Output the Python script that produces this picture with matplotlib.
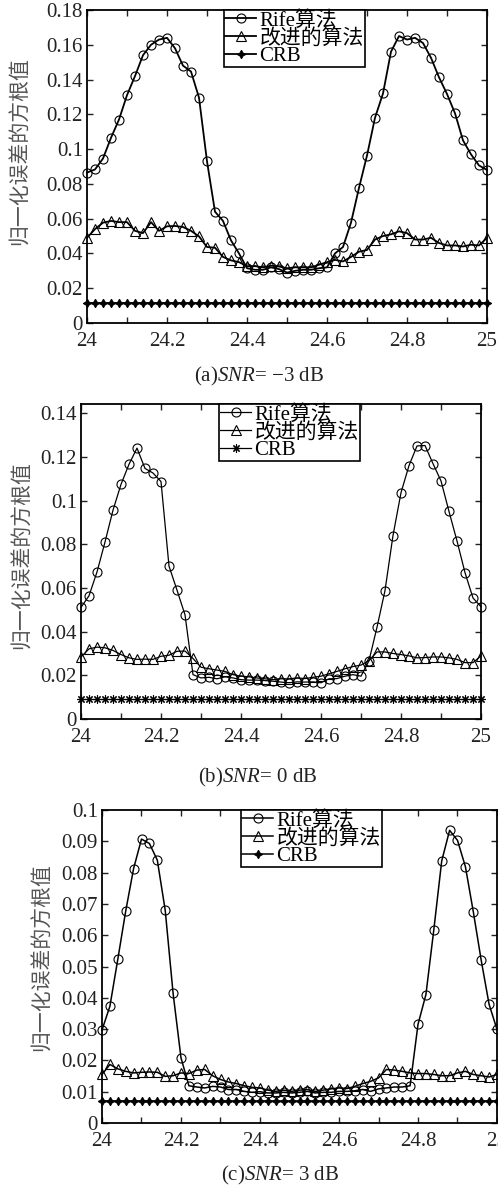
import matplotlib
matplotlib.use('Agg')
import matplotlib.pyplot as plt
import numpy as np
from matplotlib.ticker import MultipleLocator, FuncFormatter

plt.rcParams['font.family'] = ['Liberation Serif', 'Noto Sans CJK SC', 'DejaVu Sans']
plt.rcParams['mathtext.fontset'] = 'custom'
plt.rcParams['mathtext.rm'] = 'Liberation Serif'
plt.rcParams['mathtext.it'] = 'Liberation Serif:italic'

# ============================================
# 数据
# ============================================
freq = np.round(24 + 0.02 * np.arange(51), 2)

rife_a = [0.0865, 0.0883, 0.0946, 0.1065, 0.117, 0.131, 0.142, 0.154, 0.160, 0.163,
          0.164, 0.158, 0.148, 0.1446, 0.1296, 0.093, 0.064, 0.0587, 0.0475, 0.040,
          0.0315, 0.0306, 0.0306, 0.032, 0.031, 0.029, 0.030, 0.0306, 0.0306, 0.0315,
          0.032, 0.040, 0.0437, 0.0577, 0.0777, 0.0963, 0.118, 0.132, 0.156, 0.165,
          0.163, 0.164, 0.161, 0.1525, 0.1413, 0.1317, 0.1206, 0.105, 0.097, 0.0906,
          0.088]
impr_a = [0.049, 0.054, 0.0577, 0.0587, 0.058, 0.058, 0.053, 0.0517, 0.058, 0.053,
          0.0556, 0.0558, 0.0552, 0.053, 0.0498, 0.0437, 0.0433, 0.038, 0.036, 0.035,
          0.0327, 0.0327, 0.032, 0.033, 0.0325, 0.0315, 0.032, 0.032, 0.032, 0.0335,
          0.035, 0.0363, 0.0354, 0.038, 0.041, 0.042, 0.048, 0.050, 0.051, 0.0527,
          0.0517, 0.048, 0.048, 0.049, 0.046, 0.0446, 0.0446, 0.044, 0.045, 0.0446,
          0.049]
crb_a = 0.0115

rife_b = [0.0511, 0.0564, 0.0673, 0.081, 0.0956, 0.1074, 0.1166, 0.124, 0.1147, 0.1126,
          0.1087, 0.070, 0.059, 0.0477, 0.0203, 0.0188, 0.0191, 0.0184, 0.0193, 0.0188,
          0.018, 0.0178, 0.0178, 0.0176, 0.0173, 0.0169, 0.0166, 0.017, 0.0169, 0.017,
          0.0166, 0.0184, 0.0185, 0.0196, 0.0203, 0.0196, 0.0267, 0.042, 0.0588, 0.084,
          0.1036, 0.116, 0.125, 0.1252, 0.1169, 0.109, 0.095, 0.0815, 0.067, 0.0554,
          0.0514]
impr_b = [0.0284, 0.0321, 0.0329, 0.0326, 0.0314, 0.0295, 0.028, 0.0273, 0.0274, 0.0273,
          0.0287, 0.0292, 0.031, 0.0311, 0.0277, 0.0237, 0.023, 0.0224, 0.0218, 0.0203,
          0.0196, 0.0193, 0.0188, 0.0184, 0.018, 0.0184, 0.0184, 0.0188, 0.0185, 0.0191,
          0.0196, 0.0207, 0.0218, 0.023, 0.024, 0.0247, 0.0267, 0.0307, 0.0307, 0.030,
          0.0295, 0.0289, 0.028, 0.0281, 0.0284, 0.0284, 0.028, 0.0273, 0.0258, 0.0258,
          0.0289]
crb_b = 0.009

rife_c = [0.0297, 0.0373, 0.0523, 0.0677, 0.0813, 0.0907, 0.0893, 0.084, 0.068, 0.0414,
          0.0208, 0.0119, 0.0115, 0.0112, 0.0117, 0.0115, 0.0107, 0.0107, 0.0101, 0.0098,
          0.010, 0.0096, 0.0096, 0.0098, 0.0096, 0.0098, 0.0101, 0.0096, 0.0098, 0.0098,
          0.0101, 0.0101, 0.0103, 0.0107, 0.0101, 0.0109, 0.0112, 0.0115, 0.0115, 0.0119,
          0.0315, 0.041, 0.0617, 0.0837, 0.0935, 0.0903, 0.0819, 0.0675, 0.052, 0.0379,
          0.0299]
impr_c = [0.0155, 0.0187, 0.0173, 0.0165, 0.016, 0.0162, 0.0163, 0.0162, 0.0149, 0.0151,
          0.016, 0.0158, 0.0169, 0.0171, 0.0151, 0.0139, 0.0131, 0.0126, 0.0119, 0.0114,
          0.0112, 0.0105, 0.0101, 0.0105, 0.0101, 0.0105, 0.0107, 0.0101, 0.0105, 0.0109,
          0.0112, 0.011, 0.0117, 0.0126, 0.0133, 0.0144, 0.0171, 0.0169, 0.0165, 0.016,
          0.0158, 0.0158, 0.0155, 0.0151, 0.0151, 0.016, 0.0165, 0.0155, 0.0151, 0.0147,
          0.0155]
crb_c = 0.007

labels = ['Rife算法', '改进的算法', 'CRB']
captions = ['(a)$\\mathit{SNR}$= \u22123 dB', '(b)$\\mathit{SNR}$= 0 dB', '(c)$\\mathit{SNR}$= 3 dB']
ylabel = '归一化误差的方根值'

W, H = 498, 1187

def px_rect(l, r, t, b):
    return [l / W, 1 - b / H, (r - l) / W, (b - t) / H]

fig = plt.figure(figsize=(W / 100, H / 100), dpi=100)

# 每个子图: 轴位置(像素), y上限, y刻度间隔, CRB标记, 图例x, 标题位置, y标签位置
panels = [
    dict(rect=(87, 487, 10, 323), ytop=0.18, ystep=0.02, rife=rife_a, impr=impr_a,
         crb=crb_a, crbm=(4, 1, 0), legx=0.3425, cap=(259, 376), ylab=(20, 151), lw=1.3),
    dict(rect=(81, 481, 404, 719), ytop=0.1442, ystep=0.02, rife=rife_b, impr=impr_b,
         crb=crb_b, crbm=(8, 2, 0), legx=0.345, cap=(258, 777), ylab=(22, 555), lw=0.9),
    dict(rect=(102, 497, 810, 1123), ytop=0.1, ystep=0.01, rife=rife_c, impr=impr_c,
         crb=crb_c, crbm=(4, 1, 0), legx=0.352, cap=(280, 1175), ylab=(42, 957), lw=1.1),
]

fmt = FuncFormatter(lambda v, p: ('%g' % round(v, 4)))

for k, pnl in enumerate(panels):
    ax = fig.add_axes(px_rect(*pnl['rect']))
    lw = pnl['lw']
    ax.plot(freq, pnl['rife'], '-', color='black', lw=lw, marker='o', ms=6.5,
            mfc='none', mec='black', mew=0.8, label=labels[0], clip_on=False, zorder=3)
    ax.plot(freq, pnl['impr'], '-', color='black', lw=lw, marker='^', ms=6.5,
            mfc='none', mec='black', mew=0.8, label=labels[1], clip_on=False, zorder=3)
    ax.plot(freq, np.full(len(freq), pnl['crb']), '-', color='black', lw=lw,
            marker=pnl['crbm'], ms=6, mfc='black', mec='black', mew=0.8,
            label=labels[2], clip_on=False, zorder=3)

    ax.set_xlim(24, 25)
    ax.set_ylim(0, pnl['ytop'])
    ax.xaxis.set_major_locator(MultipleLocator(0.2))
    ax.xaxis.set_minor_locator(MultipleLocator(0.1))
    ax.yaxis.set_major_locator(MultipleLocator(pnl['ystep']))
    ax.xaxis.set_major_formatter(fmt)
    ax.yaxis.set_major_formatter(fmt)
    ax.tick_params(which='both', direction='in', top=True, right=True,
                   length=4.5, width=1.0, labelsize=15, colors='#222222', pad=3)
    ax.tick_params(axis='x', pad=6.5)
    for sp in ax.spines.values():
        sp.set_linewidth(1.3)

    leg = ax.legend(loc='upper left', bbox_to_anchor=(pnl['legx'], 1.0),
                    borderaxespad=0, fontsize=15, labelspacing=-0.1,
                    handlelength=1.5, handletextpad=0.15, borderpad=0.05,
                    fancybox=False, framealpha=1, edgecolor='black')
    leg.get_frame().set_linewidth(1.2)

    fig.text(pnl['cap'][0] / W, 1 - pnl['cap'][1] / H, captions[k],
             ha='center', va='center', fontsize=15, color='#222222')
    fig.text(pnl['ylab'][0] / W, 1 - pnl['ylab'][1] / H, ylabel, rotation=90,
             ha='center', va='center', fontsize=15, color='#555555',
             family=['Noto Sans CJK SC', 'DejaVu Sans'])

fig.savefig('out.png', dpi=100)
